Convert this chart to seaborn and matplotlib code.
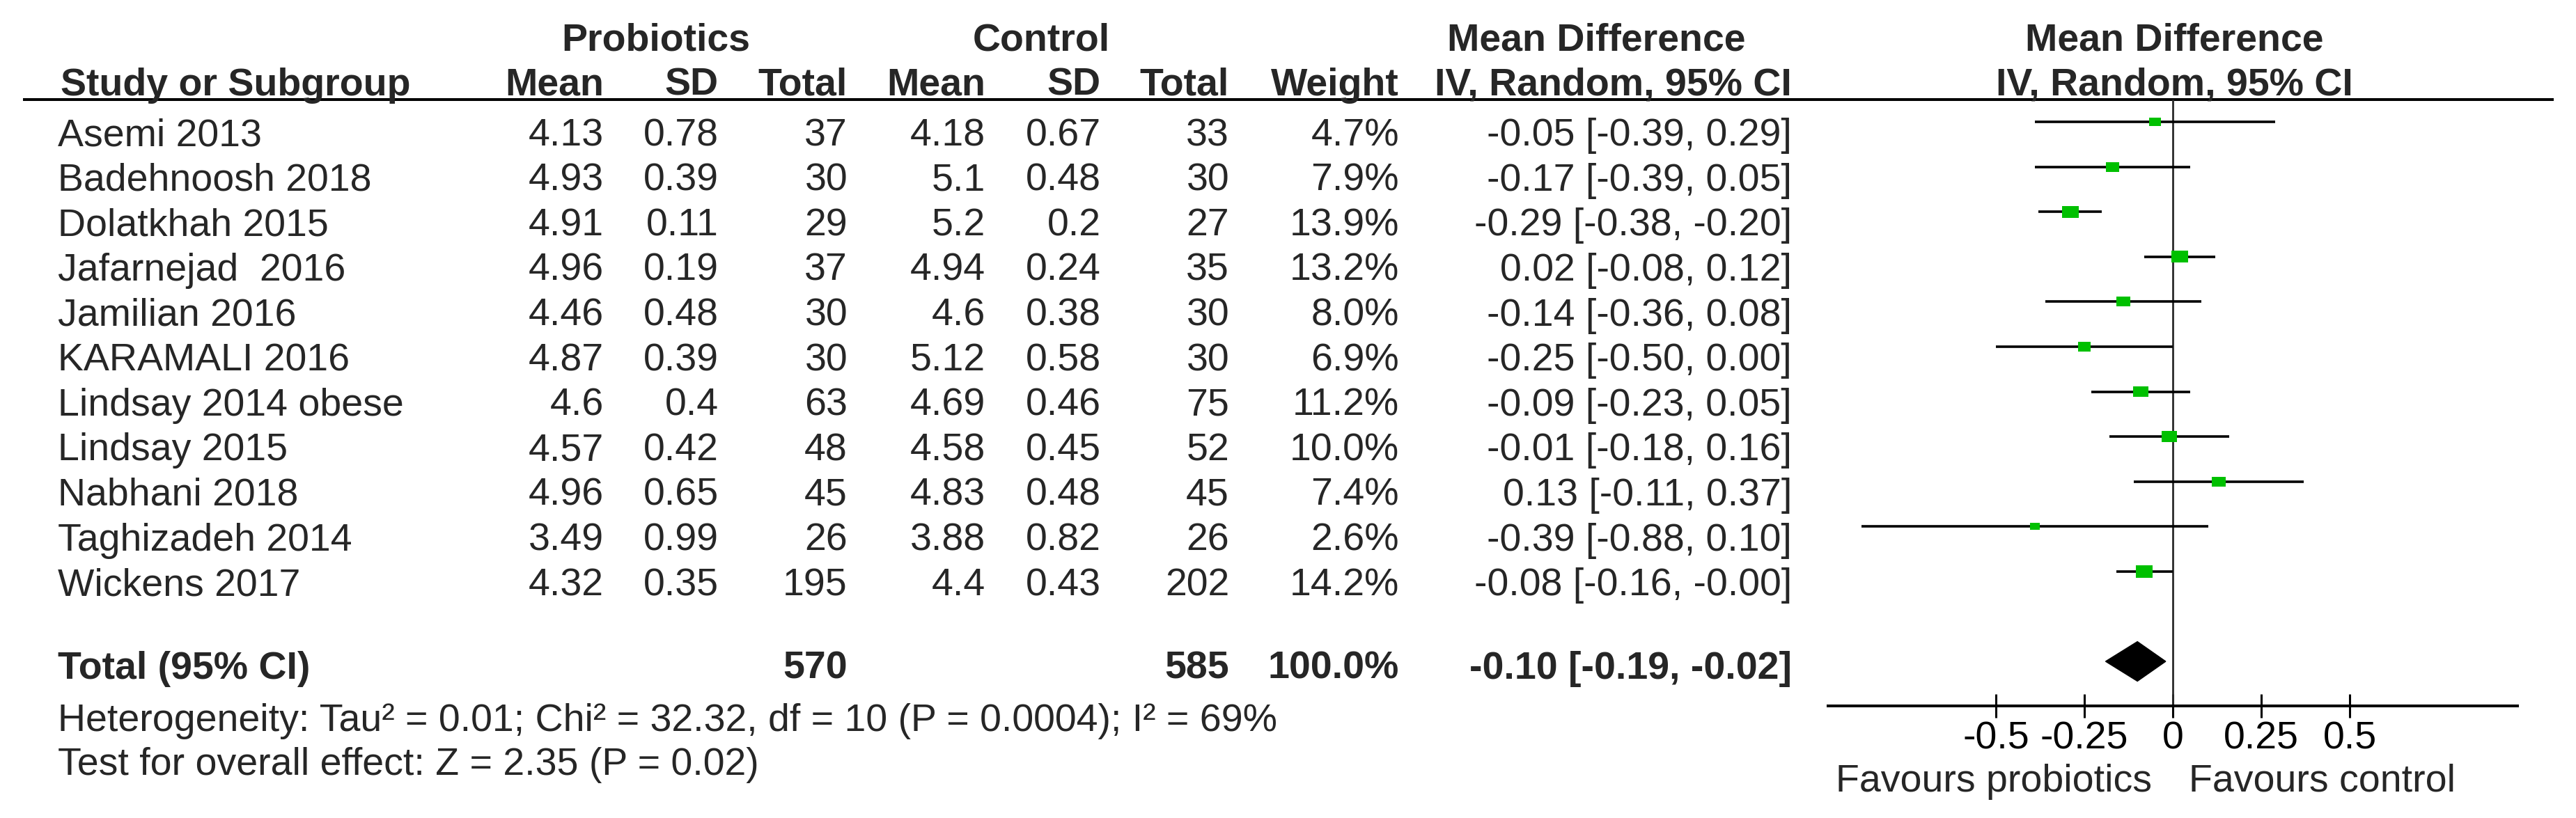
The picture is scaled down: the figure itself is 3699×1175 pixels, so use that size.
import numpy as np
import matplotlib
matplotlib.use('Agg')
import matplotlib.pyplot as plt
from matplotlib.markers import MarkerStyle
import seaborn as sns

# study data
studies = ['Asemi 2013', 'Badehnoosh 2018', 'Dolatkhah 2015', 'Jafarnejad  2016',
           'Jamilian 2016', 'KARAMALI 2016', 'Lindsay 2014 obese', 'Lindsay 2015',
           'Nabhani 2018', 'Taghizadeh 2014', 'Wickens 2017']
pro_mean = [4.13, 4.93, 4.91, 4.96, 4.46, 4.87, 4.6, 4.57, 4.96, 3.49, 4.32]
pro_sd = [0.78, 0.39, 0.11, 0.19, 0.48, 0.39, 0.4, 0.42, 0.65, 0.99, 0.35]
pro_n = [37, 30, 29, 37, 30, 30, 63, 48, 45, 26, 195]
ctl_mean = [4.18, 5.1, 5.2, 4.94, 4.6, 5.12, 4.69, 4.58, 4.83, 3.88, 4.4]
ctl_sd = [0.67, 0.48, 0.2, 0.24, 0.38, 0.58, 0.46, 0.45, 0.48, 0.82, 0.43]
ctl_n = [33, 30, 27, 35, 30, 30, 75, 52, 45, 26, 202]
weight = [4.7, 7.9, 13.9, 13.2, 8.0, 6.9, 11.2, 10.0, 7.4, 2.6, 14.2]
md = [-0.05, -0.17, -0.29, 0.02, -0.14, -0.25, -0.09, -0.01, 0.13, -0.39, -0.08]
ci_lo = [-0.39, -0.39, -0.38, -0.08, -0.36, -0.50, -0.23, -0.18, -0.11, -0.88, -0.16]
ci_hi = [0.29, 0.05, -0.20, 0.12, 0.08, 0.00, 0.05, 0.16, 0.37, 0.10, -0.0]

# pooled result
total_pro_n = 570
total_ctl_n = 585
pooled_md = -0.10
pooled_lo = -0.19
pooled_hi = -0.02

tick_vals = [-0.5, -0.25, 0, 0.25, 0.5]
tick_labels = ['-0.5', '-0.25', '0', '0.25', '0.5']

het_text = 'Heterogeneity: Tau\u00b2 = 0.01; Chi\u00b2 = 32.32, df = 10 (P = 0.0004); I\u00b2 = 69%'
test_text = 'Test for overall effect: Z = 2.35 (P = 0.02)'

sns.set_style('white')
plt.rcParams['font.family'] = ['Liberation Sans', 'DejaVu Sans']

W, H = 3699, 1175
FS = 40
fig = plt.figure(figsize=(W / 100, H / 100), dpi=100)

# row layout (rows in index units, 0 = first study)
y_top, y_bot = -0.495, 12.99
ax_bottom = 1 - 1014 / H
ax_height = (1014 - 143) / H

# table axes, x in pixel units across the whole figure
tab = fig.add_axes([0, ax_bottom, 1, ax_height])
tab.set_xlim(0, W)
tab.set_ylim(y_bot, y_top)
tab.axis('off')

rows = np.arange(len(studies))
total_row = 12

# column right edges
c_pm, c_psd, c_pn = 867, 1032, 1217
c_cm, c_csd, c_cn = 1415, 1581, 1765
c_w, c_ci = 2009, 2573
left = 83

hdr1 = -1.594
hdr2 = -0.588
bold = dict(fontsize=FS, fontweight='bold', va='baseline')
reg = dict(fontsize=FS, va='baseline')

tab.text(942, hdr1, 'Probiotics', ha='center', **bold)
tab.text(1495, hdr1, 'Control', ha='center', **bold)
tab.text(2292, hdr1, 'Mean Difference', ha='center', **bold)
tab.text(3122, hdr1, 'Mean Difference', ha='center', **bold)

tab.text(left + 4, hdr2, 'Study or Subgroup', ha='left', **bold)
for x, lab in [(c_pm, 'Mean'), (c_psd, 'SD'), (c_pn, 'Total'),
               (c_cm, 'Mean'), (c_csd, 'SD'), (c_cn, 'Total'),
               (c_w, 'Weight'), (c_ci, 'IV, Random, 95% CI')]:
    tab.text(x, hdr2, lab, ha='right', **bold)
tab.text(3122, hdr2, 'IV, Random, 95% CI', ha='center', **bold)

# header rule
tab.plot([33, 3667], [y_top, y_top], color='black', lw=2.9, clip_on=False,
         solid_capstyle='butt')

for i in rows:
    yb = i + 0.53
    tab.text(left, yb, studies[i], ha='left', **reg)
    tab.text(c_pm, yb, str(pro_mean[i]), ha='right', **reg)
    tab.text(c_psd, yb, str(pro_sd[i]), ha='right', **reg)
    tab.text(c_pn, yb, str(pro_n[i]), ha='right', **reg)
    tab.text(c_cm, yb, str(ctl_mean[i]), ha='right', **reg)
    tab.text(c_csd, yb, str(ctl_sd[i]), ha='right', **reg)
    tab.text(c_cn, yb, str(ctl_n[i]), ha='right', **reg)
    tab.text(c_w, yb, f'{weight[i]:.1f}%', ha='right', **reg)
    tab.text(c_ci, yb, f'{md[i]:.2f} [{ci_lo[i]:.2f}, {ci_hi[i]:.2f}]', ha='right', **reg)

yt = total_row + 0.38
tab.text(left, yt, 'Total (95% CI)', ha='left', **bold)
tab.text(c_pn, yt, str(total_pro_n), ha='right', **bold)
tab.text(c_cn, yt, str(total_ctl_n), ha='right', **bold)
tab.text(c_w, yt, f'{sum(weight):.1f}%', ha='right', **bold)
tab.text(c_ci, yt, f'{pooled_md:.2f} [{pooled_lo:.2f}, {pooled_hi:.2f}]', ha='right', **bold)

tab.text(left, 13.545, het_text, ha='left', clip_on=False, **reg)
tab.text(left, 14.52, test_text, ha='left', clip_on=False, **reg)
tab.text(3090, 14.89, 'Favours probiotics', ha='right', clip_on=False, **reg)
tab.text(3143, 14.89, 'Favours control', ha='left', clip_on=False, **reg)

# forest axes
ax = fig.add_axes([2612 / W, ax_bottom, 1016 / W, ax_height])
ax.patch.set_visible(False)

ax.axvline(0, color='#2a2a2a', lw=2.0, zorder=1)
ax.hlines(rows, ci_lo, ci_hi, color='black', lw=2.6, zorder=2)

# box height grows with study weight, boxes a bit wider than tall
box_h = 4.5 + 3.4 * np.sqrt(weight)
box_s = (1.008 * box_h) ** 2
box = MarkerStyle([(-0.7, -0.5), (0.7, -0.5), (0.7, 0.5), (-0.7, 0.5), (-0.7, -0.5)])
sns.scatterplot(x=md, y=rows, s=box_s, marker=box, color='#00C000',
                edgecolor='none', linewidth=0, ax=ax, zorder=3)

# pooled diamond
dh = 0.44
ax.fill([pooled_lo, pooled_md, pooled_hi, pooled_md],
        [total_row, total_row - dh, total_row, total_row + dh],
        color='black', zorder=3)

ax.set_xlim(-1, 1)
ax.set_ylim(y_bot, y_top)
ax.set_yticks([])
ax.set_xlabel('')
ax.set_ylabel('')
for side in ['top', 'right', 'left']:
    ax.spines[side].set_visible(False)
ax.spines['bottom'].set_bounds(-0.975, 0.975)
ax.spines['bottom'].set_linewidth(2.9)
ax.spines['bottom'].set_color('black')
ax.set_xticks(tick_vals)
ax.set_xticklabels(tick_labels)
ax.tick_params(axis='x', direction='inout', length=25, width=2.2, pad=3,
               labelsize=FS, colors='black', bottom=True)

fig.savefig('out.png', dpi=100, facecolor='white')
